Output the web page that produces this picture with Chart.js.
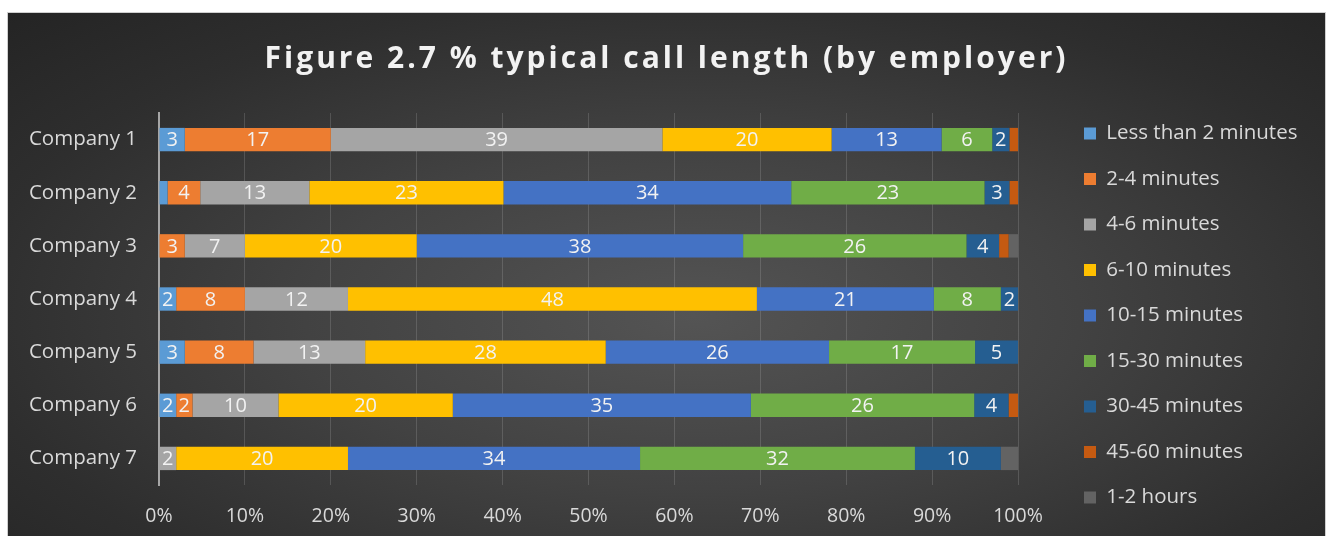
<!DOCTYPE html>
<html>
<head>
<meta charset="utf-8">
<script src="https://cdn.jsdelivr.net/npm/chart.js@4/dist/chart.umd.min.js"></script>
<style>
  body { margin: 0; background: #fff; }
  #chart-container {
    position: absolute; left: 8px; top: 13px; width: 1317px; height: 523px;
    background: radial-gradient(ellipse at 52% 58%, #545454 0%, #424242 40%, #2e2e2e 75%, #242424 100%);
    box-shadow: 0 0 0 1px #cfcfcf;
  }
  canvas { display: block; }
</style>
</head>
<body>
<div id="chart-container"><canvas id="chart" width="1317" height="523"></canvas></div>
<script>
const companies = ["Company 1", "Company 2", "Company 3", "Company 4", "Company 5", "Company 6", "Company 7"];
const seriesNames = ["Less than 2 minutes", "2-4 minutes", "4-6 minutes", "6-10 minutes", "10-15 minutes",
  "15-30 minutes", "30-45 minutes", "45-60 minutes", "1-2 hours"];

const lessThan2 = [3, 1, 0, 2, 3, 2, 0];
const min2to4   = [17, 3.8, 3, 8, 8, 1.9, 0];
const min4to6   = [38.6, 12.7, 7, 12, 13, 10, 2];
const min6to10  = [19.7, 22.6, 20, 47.6, 28, 20.3, 20];
const min10to15 = [12.8, 33.5, 38, 20.6, 26, 34.7, 34];
const min15to30 = [5.9, 22.5, 26, 7.8, 17, 26, 32];
const min30to45 = [2, 2.9, 3.8, 2, 5, 4, 10];
const min45to60 = [1, 1, 1.1, 0, 0, 1.1, 0];
const hours1to2 = [0, 0, 1.1, 0, 0, 0, 2];

const xTicks = [0, 10, 20, 30, 40, 50, 60, 70, 80, 90, 100];

const seriesValues = [lessThan2, min2to4, min4to6, min6to10, min10to15, min15to30, min30to45, min45to60, hours1to2];
const colors = ["#5B9BD5", "#ED7D31", "#A5A5A5", "#FFC000", "#4472C4", "#70AD47", "#255E91", "#C55A11", "#636363"];
// series that carry no value labels in the original
const noLabels = ["45-60 minutes", "1-2 hours"];

const FONT = "'Open Sans', Lato, sans-serif";

const titlePlugin = {
  id: "spacedTitle",
  afterDraw(chart) {
    const ctx = chart.ctx;
    ctx.save();
    ctx.font = "bold 30px " + FONT;
    ctx.letterSpacing = "3px";
    ctx.fillStyle = "#f2f2f2";
    ctx.textAlign = "center";
    ctx.textBaseline = "middle";
    ctx.fillText("Figure 2.7 % typical call length (by employer)", chart.width / 2, 46);
    ctx.restore();
  }
};

const barLabels = {
  id: "barLabels",
  afterDatasetsDraw(chart) {
    const ctx = chart.ctx;
    ctx.save();
    ctx.font = "20px " + FONT;
    ctx.fillStyle = "#f2f2f2";
    ctx.textAlign = "center";
    ctx.textBaseline = "middle";
    chart.data.datasets.forEach((ds, i) => {
      if (noLabels.includes(ds.label)) return;
      chart.getDatasetMeta(i).data.forEach((bar, j) => {
        const v = ds.data[j];
        if (v < 1.5) return;
        ctx.fillText(Math.round(v), (bar.x + bar.base) / 2, bar.y + 1);
      });
    });
    ctx.restore();
  }
};

// legend sits a bit apart from the plot, like the Excel original
const legendPlace = {
  id: "legendPlace",
  afterInit(chart) {
    const fit = chart.legend.fit;
    chart.legend.fit = function () {
      const mh = this.maxHeight;
      this.maxHeight = 600;
      fit.call(this);
      this.maxHeight = mh;
      this.height = Math.min(this.height, mh);
      this.width = 307;
    };
  },
  afterLayout(chart) {
    const lg = chart.legend;
    lg.left += 41;
    lg.top = 82;
    lg.bottom = 523;
    lg.height = 441;
  }
};

const chart = new Chart(document.getElementById("chart"), {
  type: "bar",
  data: {
    labels: companies,
    datasets: seriesNames.map((name, i) => ({
      label: name,
      data: seriesValues[i],
      backgroundColor: colors[i],
      borderWidth: 0,
      barPercentage: 0.44,
      categoryPercentage: 1
    }))
  },
  options: {
    indexAxis: "y",
    responsive: false,
    animation: false,
    layout: { padding: { top: 100, bottom: 8, left: 0, right: 0 } },
    scales: {
      x: {
        stacked: true,
        min: 0,
        max: 100,
        afterBuildTicks(scale) { scale.ticks = xTicks.map(v => ({ value: v })); },
        afterFit(scale) { scale.height = 43; },
        ticks: {
          callback: v => v + "%",
          color: "#d9d9d9",
          font: { family: FONT, size: 19.5 },
          padding: 20,
          maxRotation: 0
        },
        grid: { color: "rgba(200,200,200,0.2)", drawTicks: false },
        border: { display: false }
      },
      y: {
        stacked: true,
        afterFit(scale) { scale.width = 151; },
        ticks: {
          color: "#d9d9d9",
          font: { family: FONT, size: 20.5 },
          padding: 22
        },
        grid: { display: false, drawTicks: false },
        border: { display: true, color: "#a6a6a6", width: 2 }
      }
    },
    plugins: {
      title: { display: false },
      tooltip: { enabled: false },
      legend: {
        position: "right",
        labels: {
          boxWidth: 12,
          boxHeight: 12,
          padding: 25,
          color: "#d9d9d9",
          font: { family: FONT, size: 20.5 }
        }
      }
    }
  },
  plugins: [titlePlugin, barLabels, legendPlace]
});
</script>
</body>
</html>
